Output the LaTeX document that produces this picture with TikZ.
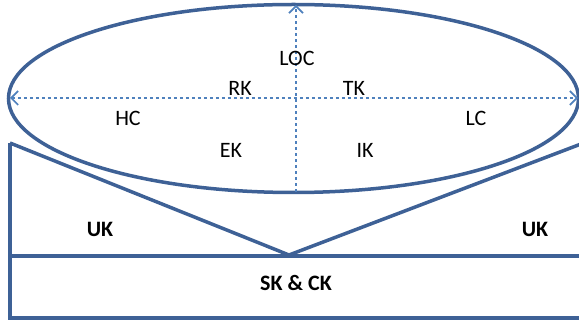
\documentclass[tikz,border=0pt]{standalone}
\usepackage{fontspec}
\setmainfont{Carlito}
\usetikzlibrary{arrows.meta}
\definecolor{darkblue}{HTML}{3E6196}
\definecolor{lightblue}{HTML}{4F81BD}
\tikzset{
  outline/.style={draw=darkblue, line width=3.5pt, line join=miter},
  axis/.style={draw=lightblue, line width=2.6pt, dash pattern=on 3pt off 3pt, {Straight Barb[length=7pt,width=14pt,line width=1.6pt]}-{Straight Barb[length=7pt,width=14pt,line width=1.6pt]}},
  axisone/.style={draw=lightblue, line width=2.6pt, dash pattern=on 3pt off 3pt, -{Straight Barb[length=7pt,width=14pt,line width=1.6pt]}},
  lbl/.style={font=\fontsize{22}{24}\selectfont, text=black, inner sep=0pt},
  blbl/.style={font=\fontsize{22}{24}\selectfont\bfseries, text=black, inner sep=0pt}
}
\begin{document}
\begin{tikzpicture}[x=1pt,y=-1pt]
\useasboundingbox (0,0) rectangle (579,320);
% lower shape
\coordinate (tl) at (10,143);
\coordinate (tr) at (581,144);
\coordinate (v) at (289,255);
\coordinate (ml) at (10,256);
\coordinate (mr) at (581,256);
\coordinate (bl) at (10,318);
\coordinate (br) at (581,318);
\draw[outline] (tl) -- (bl) -- (br);
\draw[outline] (ml) -- (mr);
\draw[outline] (tl) -- (v) -- (tr);
% ellipse
\draw[outline, fill=white] (293.5,98.5) ellipse [x radius=285, y radius=94];
% axes
\coordinate (L) at (10,98);
\coordinate (R) at (578,98);
\coordinate (B) at (296,192);
\coordinate (T) at (296,5);
\draw[axis] (L) -- (R);
\draw[axisone] (B) -- (T);
% labels
\node[lbl] (loc) at (297,58) {LOC};
\node[lbl] (rk) at (240,88) {RK};
\node[lbl] (tk) at (354,88) {TK};
\node[lbl] (hc) at (128,118) {HC};
\node[lbl] (lc) at (476,118) {LC};
\node[lbl] (ek) at (231,150) {EK};
\node[lbl] (ik) at (365,150) {IK};
\node[blbl] (uk1) at (100,229) {UK};
\node[blbl] (uk2) at (535,229) {UK};
\node[blbl] (skck) at (296,283) {SK \& CK};
\end{tikzpicture}
\end{document}
